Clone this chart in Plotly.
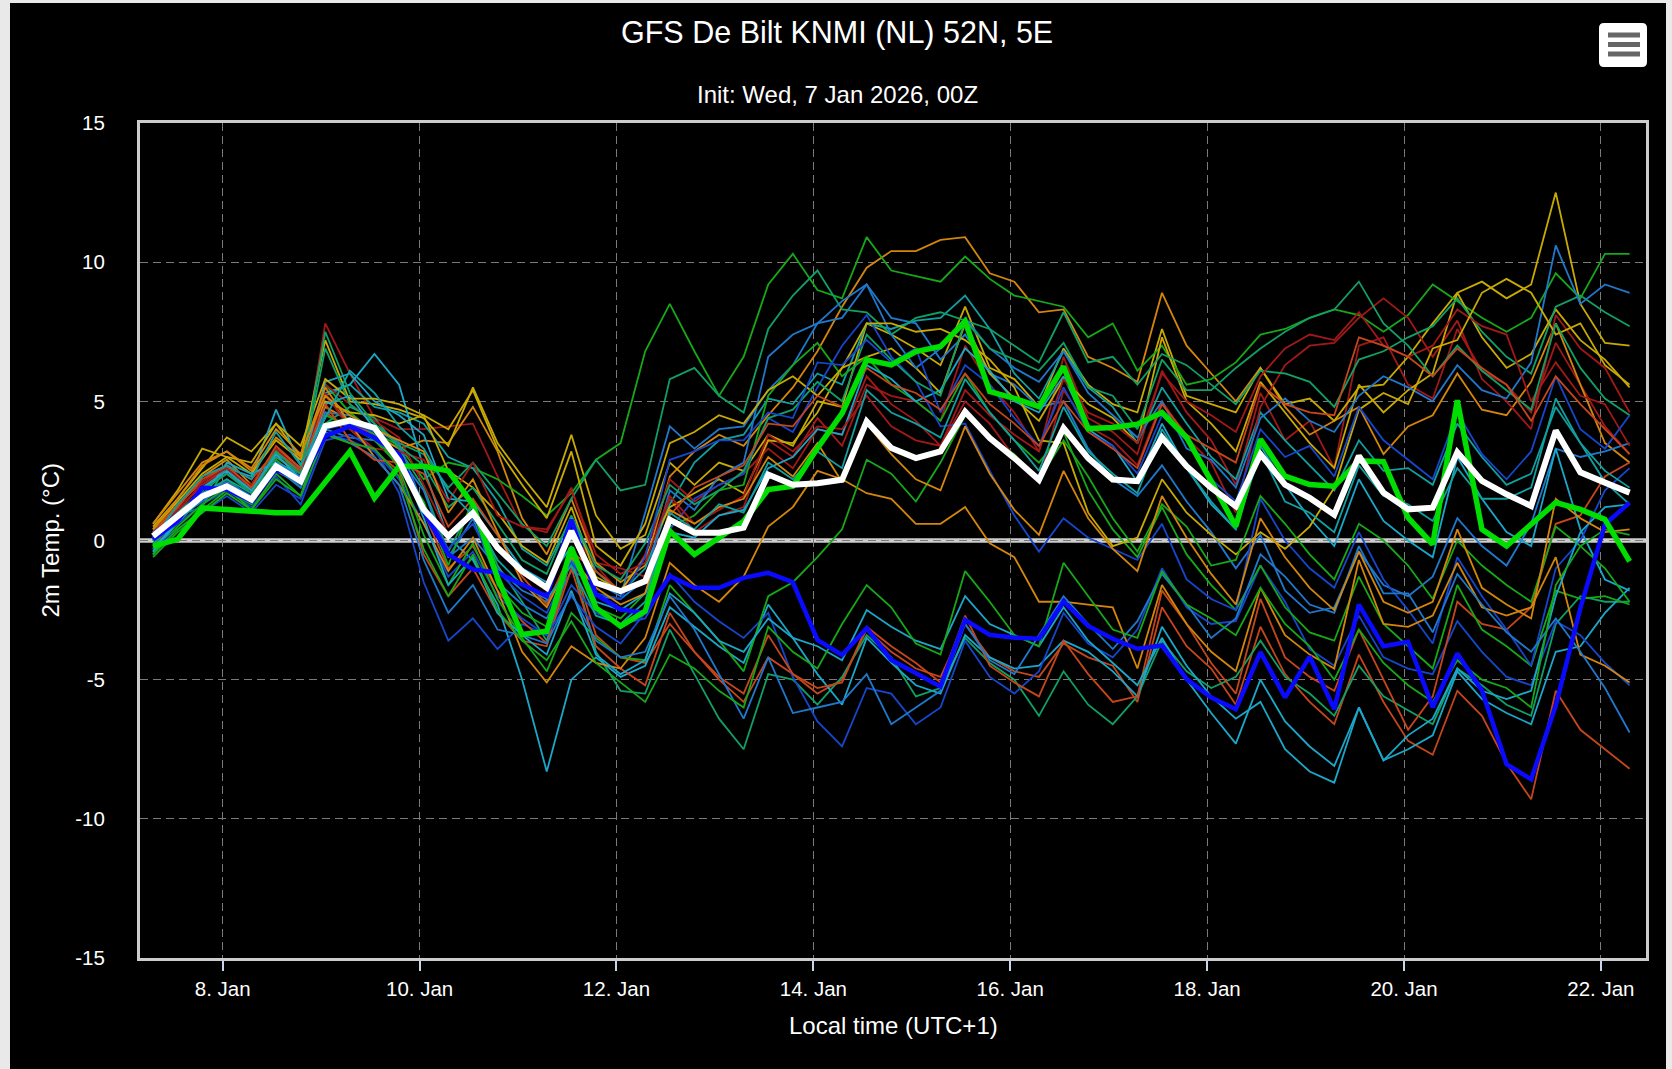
import pandas as pd
import plotly.graph_objects as go

# ---------------- data ----------------
times = pd.date_range("2026-01-07 07:00", periods=61, freq="6h")

tick_dates = ["2026-01-08", "2026-01-10", "2026-01-12", "2026-01-14",
              "2026-01-16", "2026-01-18", "2026-01-20", "2026-01-22"]
tick_labels = ["8. Jan", "10. Jan", "12. Jan", "14. Jan",
               "16. Jan", "18. Jan", "20. Jan", "22. Jan"]
y_ticks = [-15, -10, -5, 0, 5, 10, 15]

ens_mean = [0.16, 0.87, 1.59, 1.95, 1.47, 2.67, 2.13, 4.11, 4.31, 4.05, 2.85,
            1.11, 0.16, 0.99, -0.26, -1.1, -1.7, 0.34, -1.52, -1.82, -1.46,
            0.75, 0.28, 0.28, 0.46, 2.37, 2.0, 2.06, 2.18,
            4.28, 3.32, 2.96, 3.2, 4.63, 3.68, 2.96, 2.18,
            4.04, 2.96, 2.19, 2.13, 3.7, 2.67, 1.89, 1.23,
            3.1, 2.01, 1.53, 0.93, 3.04, 1.72, 1.12, 1.18,
            3.17, 2.14, 1.66, 1.24, 3.95, 2.45, 2.08, 1.72]

oper_run = [-0.2, 0.04, 1.17, 1.11, 1.05, 1.0, 1.0, 2.07, 3.2, 1.53, 2.67,
            2.67, 2.5, 1.29, -1.34, -3.38, -3.26, -0.26, -2.42, -3.08, -2.54,
            0.34, -0.5, 0.1, 0.69, 1.83, 1.95, 3.32, 4.57,
            6.49, 6.31, 6.79, 6.97, 7.87, 5.35, 5.11, 4.81,
            6.25, 4.02, 4.06, 4.18, 4.6, 3.7, 2.13, 0.51,
            3.64, 2.31, 2.01, 1.95, 2.86, 2.83, 0.82, -0.14,
            5.04, 0.4, -0.2, 0.58, 1.36, 1.12, 0.76, -0.75]

control_run = [0.04, 0.7, 1.9, 1.83, 1.41, 2.55, 2.19, 3.75, 4.1, 3.69, 3.09,
               1.05, -0.5, -1.04, -1.16, -1.58, -2.0, 0.75, -1.94, -2.48, -2.6,
               -1.28, -1.7, -1.7, -1.34, -1.16, -1.5, -3.57, -4.11,
               -3.15, -4.29, -4.77, -5.25, -2.85, -3.39, -3.49, -3.53,
               -2.19, -3.07, -3.53, -3.89, -3.77, -4.98, -5.64, -6.06,
               -4.01, -5.64, -4.17, -6.06, -2.3, -3.8, -3.64, -5.99,
               -4.06, -5.39, -8.04, -8.58, -5.93, -2.43, 0.58, 1.36]

member_01 = [-0.2, 0.8, 1.8, 2.4, 1.7, 3.2, 2.4, 7.8, 6.0, 4.4, 4.0,
             4.0, 4.1, 4.2, 2.3, 0.5, 0.3, 1.9, -0.8, -1.0, -1.3,
             1.5, 0.3, 0.9, 1.2, 3.6, 3.0, 4.4, 3.4,
             5.6, 5.2, 5.0, 4.3, 7.0, 5.6, 4.6, 3.2,
             6.6, 4.4, 3.9, 3.1, 6.1, 4.6, 3.6, 2.0,
             5.3, 3.6, 4.3, 2.6, 7.0, 7.3, 5.6, 5.1,
             7.6, 6.1, 5.6, 4.6, 7.1, 5.6, 4.1, 3.1]
member_02 = [0.1, 1.1, 2.0, 2.6, 1.9, 3.0, 2.5, 4.6, 4.0, 3.2, 2.5,
             -0.5, -2.0, -1.0, -2.6, -3.6, -3.8, -0.6, -3.4, -4.2, -4.4,
             -3.0, -4.0, -5.0, -5.8, -4.2, -4.8, -5.5, -5.0,
             -3.2, -4.0, -4.6, -4.9, -3.0, -4.2, -4.7, -4.9,
             -3.7, -4.2, -4.5, -5.8, -2.4, -3.8, -4.6, -5.9,
             -3.1, -4.8, -5.8, -6.6, -4.1, -5.8, -7.2, -7.7,
             -5.4, -6.3, -8.0, -9.3, -5.4, -6.8, -7.5, -8.2]
member_03 = [0.3, 1.2, 2.3, 2.9, 2.0, 3.3, 2.6, 4.8, 4.3, 3.8, 3.3,
             3.6, 3.5, 4.8, 3.2, 0.8, -0.5, 1.5, -0.8, -1.5, -0.9,
             2.3, 3.2, 3.8, 3.4, 4.5, 5.5, 6.8, 8.4,
             9.8, 10.4, 10.4, 10.8, 10.9, 9.6, 9.3, 8.2,
             8.3, 6.6, 6.2, 5.7, 8.9, 7.0, 6.0, 5.0,
             6.2, 4.8, 3.8, 4.3, 4.8, 3.1, 4.1, 4.5,
             6.0, 4.7, 4.5, 5.7, 7.8, 5.6, 3.5, 2.8]
member_04 = [0.5, 1.5, 2.6, 3.7, 3.2, 4.2, 3.0, 7.2, 5.0, 4.9, 4.7,
             4.4, 3.4, 5.5, 3.5, 2.3, 1.2, 3.8, 0.9, -0.3, 0.2,
             2.8, 2.0, 2.8, 2.5, 3.8, 3.4, 5.0, 4.8,
             7.8, 7.4, 6.9, 6.3, 8.4, 6.2, 5.8, 4.8,
             6.9, 5.6, 4.9, 4.6, 7.6, 5.2, 4.9, 4.6,
             6.2, 4.9, 5.1, 4.3, 5.5, 5.6, 6.6, 7.8,
             8.9, 9.3, 8.7, 9.2, 12.5, 8.5, 7.1, 7.0]
member_05 = [-0.3, 0.6, 1.6, 2.2, 1.5, 2.9, 2.2, 5.6, 4.6, 3.9, 3.4,
             2.2, 2.8, 2.6, 2.2, 1.6, 0.9, 1.7, 2.9, 3.5, 6.8,
             8.5, 6.8, 5.2, 6.6, 9.2, 10.3, 9.0, 8.7,
             10.9, 9.7, 9.5, 9.3, 10.2, 9.4, 8.8, 8.6,
             8.4, 7.3, 7.8, 6.1, 7.0, 5.6, 5.8, 6.4,
             7.4, 7.6, 8.0, 8.3, 8.1, 7.5, 8.1, 9.2,
             8.6, 8.0, 7.5, 8.0, 9.6, 8.7, 10.3, 10.3]
member_06 = [-0.2, 0.9, 1.2, 2.7, 1.8, 2.7, 2.0, 4.2, 4.8, 4.4, 3.3,
             1.9, -0.4, 1.3, -0.9, -2.2, -3.6, -0.6, -4.0, -5.4, -5.5,
             -3.2, -4.8, -6.4, -7.5, -4.8, -5.0, -5.9, -4.9,
             -3.4, -4.2, -5.6, -5.3, -3.5, -4.4, -5.0, -6.3,
             -4.7, -5.9, -6.6, -5.6, -3.6, -4.7, -5.3, -4.9,
             -3.6, -4.9, -5.5, -6.3, -4.5, -5.6, -6.1, -6.6,
             -4.6, -5.2, -5.9, -6.3, -3.0, -2.0, -2.2, -2.2]
member_07 = [0.1, 1.0, 1.7, 2.2, 1.7, 3.1, 2.6, 5.2, 5.6, 4.8, 4.6,
             4.2, 3.0, 2.6, 1.4, -0.3, -0.9, 0.8, -1.1, -1.9, -1.0,
             1.3, 2.8, 3.6, 3.8, 5.1, 4.9, 6.0, 5.6,
             7.8, 7.6, 7.9, 8.0, 8.8, 7.6, 6.0, 5.1,
             6.8, 5.5, 4.8, 3.5, 5.5, 4.2, 3.0, 2.2,
             4.6, 3.6, 2.7, 1.8, 3.6, 2.5, 2.6, 2.0,
             4.2, 3.0, 2.0, 2.4, 4.8, 3.5, 2.1, 1.3]
member_08 = [-0.5, 0.7, 1.8, 2.6, 2.3, 4.7, 2.7, 5.3, 5.6, 6.7, 5.6,
             2.6, 0.1, -0.7, -2.3, -5.0, -8.3, -5.0, -4.2, -4.9, -4.5,
             -2.4, -3.1, -3.8, -4.4, -2.3, -3.5, -4.8, -5.9,
             -3.5, -4.4, -5.2, -5.5, -3.4, -4.2, -4.6, -4.5,
             -3.6, -4.0, -4.7, -5.6, -3.1, -4.5, -5.6, -6.4,
             -5.8, -7.5, -8.3, -8.7, -6.0, -7.9, -7.5, -7.0,
             -4.7, -5.7, -6.2, -6.6, -4.0, -3.8, -2.6, -1.7]
member_09 = [0.0, 0.8, 1.4, 2.0, 1.4, 2.5, 2.0, 4.0, 3.7, 3.6, 3.0,
             1.8, -0.6, 0.8, -1.5, -2.3, -2.8, -1.1, -1.5, -2.0, 1.0,
             4.1, 3.3, 4.0, 4.1, 5.4, 6.3, 7.8, 8.0,
             9.2, 8.0, 7.8, 6.5, 7.4, 6.0, 5.6, 4.8,
             5.0, 3.3, 2.2, 1.6, 2.7, 1.4, 0.3, -1.0,
             0.2, -1.8, -2.6, -2.4, -0.4, -1.6, -2.0, -1.3,
             0.8, -0.2, -0.9, 0.6, 3.3, 3.0, 3.2, 3.5]
member_10 = [0.0, 0.6, 1.3, 1.8, 1.2, 2.3, 1.3, 3.6, 3.8, 3.3, 1.7,
             -1.5, -3.6, -2.8, -3.9, -3.0, -3.4, -1.6, -2.6, -3.0, -2.8,
             -1.2, -2.2, -2.9, -3.5, -2.6, -4.9, -6.5, -7.4,
             -5.3, -5.5, -6.6, -6.0, -3.6, -4.9, -5.5, -4.7,
             -2.6, -3.7, -4.2, -3.2, -1.0, -2.4, -3.0, -2.9,
             -0.9, -2.2, -3.9, -4.5, -2.7, -4.2, -4.6, -4.8,
             -2.9, -4.0, -4.9, -5.2, -2.9, -3.4, -4.4, -5.2]
member_11 = [0.2, 1.1, 2.0, 2.5, 2.0, 3.3, 2.5, 5.6, 4.9, 4.3, 3.7,
             2.0, 0.2, 1.0, -0.3, -1.2, -1.8, 0.3, -0.9, -1.9, -0.5,
             2.2, 1.4, 2.0, 2.4, 3.3, 2.6, 4.0, 3.8,
             5.9, 4.9, 4.3, 3.4, 5.0, 4.2, 3.0, 2.1,
             5.4, 4.1, 3.6, 2.7, 5.0, 3.7, 2.8, 1.0,
             4.8, 6.3, 7.0, 7.1, 8.0, 8.7, 8.0, 6.6,
             7.9, 5.8, 5.0, 4.0, 8.1, 6.9, 6.2, 4.6]
member_12 = [0.3, 1.3, 2.1, 2.7, 2.2, 3.2, 2.5, 5.2, 4.2, 3.8, 3.0,
             1.0, -1.0, -0.2, -1.8, -2.9, -3.7, -1.0, -3.8, -4.6, -5.2,
             -2.6, -4.0, -4.9, -5.5, -3.4, -4.8, -5.3, -5.1,
             -3.1, -3.8, -4.4, -5.1, -2.7, -4.5, -5.1, -5.6,
             -3.6, -4.8, -5.8, -5.6, -1.8, -3.0, -4.4, -5.5,
             -2.1, -4.2, -4.9, -5.4, -3.2, -5.0, -6.8, -5.6,
             -2.2, -3.0, -3.2, -2.4, 0.6, 0.9, 2.3, 2.8]
member_13 = [0.4, 1.4, 2.4, 3.0, 2.4, 3.6, 2.9, 5.0, 4.6, 4.5, 4.2,
             4.5, 2.5, 1.9, 1.0, -0.2, -0.8, 1.2, -1.3, -1.8, -0.6,
             1.2, 1.7, 2.2, 1.7, 3.6, 3.5, 4.6, 6.2,
             6.6, 6.9, 6.2, 5.3, 7.8, 6.0, 5.1, 4.3,
             5.8, 4.9, 4.4, 3.5, 7.3, 5.0, 4.2, 3.2,
             5.7, 4.6, 3.5, 2.6, 5.6, 4.6, 5.4, 6.0,
             8.9, 7.3, 6.2, 6.7, 8.3, 7.2, 6.5, 5.5]
member_14 = [-0.4, 0.5, 1.3, 1.9, 1.1, 2.4, 1.6, 4.5, 4.1, 3.6, 2.7,
             1.4, -0.9, 1.5, -1.6, -2.6, -3.1, -0.4, -2.4, -2.8, -1.9,
             0.5, 0.9, 1.8, 2.0, 5.2, 6.3, 7.1, 5.9,
             6.6, 5.6, 5.0, 4.3, 6.0, 4.6, 3.6, 2.8,
             3.9, 1.8, 0.4, -0.6, 1.2, -0.5, -1.6, -2.5,
             -0.9, -2.4, -3.3, -3.6, -1.3, -3.0, -3.8, -4.6,
             -1.6, -3.2, -3.8, -4.5, -1.8, -2.1, -2.0, -2.3]
member_15 = [-0.1, 0.9, 1.9, 2.4, 1.8, 3.2, 2.4, 7.5, 5.3, 4.2, 3.5,
             3.1, 1.9, 2.8, 1.7, 0.6, -0.2, 1.5, 2.9, 1.8, 2.0,
             5.8, 6.2, 5.2, 4.6, 7.6, 8.8, 9.7, 8.3,
             8.2, 7.4, 8.0, 8.2, 7.9, 7.6, 7.0, 6.4,
             8.2, 6.4, 6.6, 5.6, 6.7, 6.3, 5.6, 4.9,
             6.1, 6.0, 5.7, 4.8, 6.5, 6.8, 7.3, 7.7,
             8.7, 7.5, 6.6, 6.0, 8.4, 8.8, 8.2, 7.7]
member_16 = [-0.3, 0.7, 1.5, 2.8, 2.4, 2.8, 2.4, 5.7, 6.0, 5.0, 4.5,
             3.8, 1.5, 1.4, 0.2, -1.0, -1.5, -0.2, -2.2, -2.5, -1.9,
             0.3, 0.1, 0.9, 1.1, 2.6, 3.0, 4.0, 3.8,
             6.3, 5.8, 5.0, 5.4, 6.9, 6.1, 5.0, 4.6,
             5.9, 4.0, 3.4, 2.1, 4.2, 2.6, 1.3, 0.4,
             3.4, 2.0, 0.8, -0.2, 2.2, 0.7, 0.0, -0.6,
             3.0, 1.5, 0.3, -0.2, 3.3, 0.4, -1.4, -1.8]
member_17 = [0.2, 0.9, 1.7, 2.1, 1.6, 2.8, 2.3, 4.6, 4.5, 4.0, 3.5,
             1.2, -0.6, 0.1, -1.0, -1.8, -2.2, -0.7, -2.0, -2.1, -1.4,
             1.8, 1.1, 2.3, 2.8, 6.6, 7.4, 7.8, 8.6,
             9.2, 7.4, 6.2, 6.9, 8.0, 6.9, 6.2, 5.7,
             6.8, 5.3, 4.5, 3.7, 5.0, 3.3, 2.9, 1.9,
             4.4, 5.1, 4.3, 3.9, 5.2, 5.9, 5.5, 5.0,
             6.3, 5.4, 5.1, 6.4, 10.6, 8.5, 9.2, 8.9]
member_18 = [-0.3, 0.4, 1.0, 1.6, 1.0, 2.0, 1.5, 3.8, 3.6, 3.2, 2.2,
             0.6, -1.3, -0.4, -2.0, -2.8, -3.4, -2.0, -3.1, -3.7, -2.6,
             0.4, 1.5, 2.0, 2.4, 4.4, 3.9, 5.5, 7.0,
             8.1, 6.6, 5.7, 4.1, 4.2, 2.5, 0.9, -0.4,
             0.8, 0.1, -0.3, -0.7, 0.6, -1.4, -2.1, -2.5,
             1.5, 0.0, -1.0, -1.7, 0.3, -1.4, -2.5, -3.7,
             -0.6, -2.0, -3.2, -4.5, -1.0, 0.0, 1.8, 2.6]
member_19 = [0.0, 1.0, 2.1, 2.6, 1.9, 3.0, 2.4, 5.3, 4.0, 3.3, 3.2,
             2.9, 1.4, 2.8, 0.9, 0.5, 0.4, 1.8, -0.5, -1.2, -0.8,
             1.6, 0.6, 1.1, 1.6, 3.8, 3.2, 4.1, 4.0,
             5.2, 4.1, 3.6, 3.4, 5.4, 4.5, 3.8, 3.2,
             5.8, 4.6, 4.2, 3.5, 6.0, 5.0, 4.5, 3.9,
             5.9, 6.9, 7.4, 7.2, 8.2, 7.0, 6.6, 7.0,
             8.3, 7.7, 7.4, 5.0, 6.4, 5.2, 4.9, 3.4]
member_20 = [0.4, 1.5, 2.7, 3.2, 2.5, 3.7, 3.0, 5.5, 4.2, 3.0, 2.0,
             0.6, -1.1, 0.1, -1.8, -4.0, -5.1, -3.8, -4.4, -4.6, -3.5,
             -0.8, -1.6, -2.2, -1.3, 0.5, 1.2, 2.5, 2.2,
             1.7, 1.5, 0.6, 0.6, 1.2, -0.1, -0.6, -2.2,
             -2.2, -2.3, -2.4, -4.6, -1.6, -3.0, -4.0, -4.7,
             -1.7, -3.4, -4.1, -4.6, -0.7, -3.0, -3.1, -2.7,
             -0.8, -2.4, -2.7, -2.4, -0.6, -4.1, -4.5, -5.1]
member_21 = [0.6, 1.8, 3.3, 3.0, 2.8, 4.2, 3.4, 5.8, 5.1, 5.1, 4.9,
             4.5, 4.0, 5.4, 3.3, 2.0, 0.8, 3.2, -0.2, -0.9, 0.6,
             3.5, 3.9, 4.5, 4.2, 5.4, 5.9, 5.2, 6.2,
             7.8, 7.8, 7.5, 7.6, 7.2, 6.5, 5.5, 3.6,
             3.5, 1.0, -0.2, 0.1, 2.2, 1.0, 0.2, -0.5,
             0.3, -0.3, 0.5, 1.9, 4.7, 5.3, 4.9, 6.9,
             7.2, 8.9, 9.4, 8.9, 7.4, 7.8, 6.3, 5.6]
member_22 = [-0.5, 0.4, 1.1, 1.8, 1.3, 2.6, 1.9, 4.2, 4.4, 3.8, 2.6,
             0.2, -1.6, -0.1, -2.1, -3.5, -4.7, -2.6, -3.5, -4.2, -4.3,
             -1.6, -2.6, -3.6, -4.7, -2.0, -1.5, -0.6, 0.4,
             2.9, 2.4, 1.4, 2.8, 4.5, 3.7, 3.1, 2.2,
             3.6, 2.3, 0.8, -0.4, 1.3, 0.5, -0.9, -0.7,
             1.6, 0.6, -0.5, -1.4, 0.6, 0.0, -0.9, -2.1,
             0.0, -0.9, -1.6, -2.2, 0.5, -0.2, -1.0, -2.2]
member_23 = [0.0, 1.0, 1.8, 2.4, 1.7, 3.0, 2.4, 6.9, 4.9, 4.2, 3.4,
             2.7, 1.2, 1.9, 0.6, -0.7, -1.2, 0.9, -0.9, -1.4, -0.1,
             2.0, 1.3, 1.8, 2.5, 4.4, 4.7, 5.7, 5.0,
             7.4, 6.5, 5.7, 5.2, 7.9, 6.9, 6.5, 6.1,
             7.1, 5.5, 5.2, 4.0, 6.5, 5.4, 5.4, 6.2,
             6.9, 7.5, 8.0, 8.3, 9.3, 7.8, 7.0, 5.9,
             7.0, 6.1, 5.4, 4.7, 7.8, 6.2, 5.1, 4.5]
member_24 = [-0.4, 0.8, 1.9, 2.5, 1.8, 3.1, 2.2, 4.9, 5.2, 4.0, 3.0,
             0.8, -1.6, -0.6, -2.6, -3.4, -4.1, -1.8, -4.1, -4.8, -4.3,
             -1.9, -2.6, -3.6, -4.0, -2.8, -3.5, -3.8, -4.3,
             -2.5, -3.1, -3.6, -3.9, -2.0, -3.0, -3.4, -3.8,
             -2.4, -3.6, -4.4, -5.2, -3.5, -5.0, -6.2, -7.3,
             -5.0, -6.5, -7.4, -8.1, -6.0, -7.9, -7.0, -6.4,
             -4.6, -5.4, -5.7, -5.4, -2.0, 0.3, 1.2, 1.3]
member_25 = [0.1, 0.9, 1.6, 2.0, 1.4, 2.6, 1.9, 3.9, 3.5, 3.0, 2.0,
             -0.7, -2.6, -1.6, -3.2, -3.4, -3.7, -1.9, -3.6, -4.2, -4.0,
             -2.0, -3.2, -4.8, -6.4, -4.2, -6.2, -6.0, -5.8,
             -4.8, -6.6, -6.0, -5.4, -3.0, -4.3, -4.8, -3.4,
             -2.0, -3.0, -3.9, -2.9, -1.2, -2.3, -3.5, -2.8,
             -0.5, -1.3, -2.3, -2.6, -0.2, -1.9, -1.9, -3.3,
             -1.2, -2.3, -3.3, -4.0, -2.8, -4.0, -5.3, -6.9]
member_26 = [0.3, 1.0, 1.5, 1.9, 1.5, 2.7, 2.0, 4.0, 4.2, 3.9, 2.8,
             1.2, -0.3, 0.6, -1.1, -2.0, -2.6, -0.8, -1.9, -2.1, -0.6,
             2.9, 3.2, 3.6, 3.6, 4.6, 4.4, 6.4, 6.3,
             7.2, 6.4, 6.9, 4.6, 6.3, 5.6, 4.4, 3.4,
             5.5, 3.9, 3.4, 2.4, 4.5, 3.6, 2.2, 1.4,
             4.0, 3.0, 3.4, 2.3, 4.8, 3.6, 2.9, 2.2,
             4.6, 3.1, 2.2, 3.2, 5.9, 4.0, 3.3, 4.5]
member_27 = [0.2, 1.2, 2.2, 2.7, 1.9, 3.4, 2.6, 4.9, 3.6, 2.9, 2.8,
             2.4, 0.5, 1.5, 0.2, -1.3, -2.3, -0.4, -1.1, -1.8, -1.4,
             0.9, 1.9, 2.3, 2.7, 4.2, 4.1, 5.2, 4.8,
             6.2, 5.6, 5.3, 4.7, 6.0, 4.9, 4.2, 3.4,
             5.0, 3.9, 3.3, 2.6, 4.9, 3.8, 3.3, 2.8,
             5.6, 4.9, 4.6, 4.5, 7.3, 7.0, 6.6, 5.9,
             6.9, 6.2, 5.6, 4.3, 5.9, 4.9, 4.0, 3.1]
member_28 = [0.6, 1.7, 2.8, 3.2, 2.6, 4.0, 3.1, 5.2, 4.5, 4.0, 3.6,
             3.2, 1.0, 2.2, 0.3, -1.5, -2.4, -0.6, -1.7, -2.3, -1.9,
             1.1, 0.6, 1.2, 1.5, 3.0, 2.3, 3.5, 2.1,
             4.2, 3.1, 2.2, 1.8, 4.1, 2.4, 1.1, 0.2,
             2.5, 0.8, -0.3, -1.1, 1.6, 0.1, -1.2, -2.3,
             0.8, -0.6, -1.7, -2.5, -0.4, -2.2, -2.6, -2.2,
             0.4, -1.7, -2.3, -2.8, 1.5, 0.8, 0.3, 0.4]
member_29 = [-0.6, 0.3, 1.0, 1.7, 1.1, 2.2, 1.6, 3.8, 3.5, 3.3, 2.3,
             -0.3, -2.0, -0.5, -2.5, -3.6, -4.3, -2.9, -4.4, -5.1, -5.8,
             -4.1, -4.6, -5.4, -6.0, -3.1, -4.0, -4.6, -3.0,
             -1.6, -2.4, -3.7, -4.1, -1.1, -2.2, -3.4, -3.8,
             -0.8, -2.0, -3.2, -3.5, -1.1, -2.3, -2.8, -3.4,
             -1.7, -3.0, -3.8, -5.0, -3.2, -4.4, -5.2, -5.8,
             -4.3, -5.0, -5.3, -6.0, -1.6, -0.2, 0.4, 0.2]
member_30 = [0.0, 1.3, 2.3, 2.7, 2.2, 3.9, 2.7, 4.4, 6.1, 5.3, 4.1,
             3.3, 1.8, 0.9, -0.7, -1.6, -2.1, -0.9, -2.7, -3.0, -2.2,
             1.0, 0.4, 1.3, 1.0, 2.8, 2.2, 3.2, 2.6,
             5.4, 4.6, 4.2, 3.7, 5.8, 4.6, 3.6, 2.5,
             4.8, 3.2, 2.4, 1.7, 4.0, 2.6, 1.4, 0.4,
             3.2, 1.4, 1.0, 0.3, 2.7, 1.6, 1.3, 0.7,
             2.6, 1.5, 1.5, 1.9, 5.1, 3.5, 2.5, 1.9]

members = [member_01, member_02, member_03, member_04, member_05, member_06,
           member_07, member_08, member_09, member_10, member_11, member_12,
           member_13, member_14, member_15, member_16, member_17, member_18,
           member_19, member_20, member_21, member_22, member_23, member_24,
           member_25, member_26, member_27, member_28, member_29, member_30]

DRED, RED, ORA, GOLD = "#a31818", "#c6461b", "#d4860b", "#c8aa02"
GRN, TGRN, TEAL, CYAN = "#16a818", "#10a066", "#10a0a0", "#1ba7c9"
BLUE, DBLUE = "#1f78cc", "#1646cc"
member_colors = [DRED, RED, ORA, GOLD, GRN, TGRN, TEAL, CYAN, BLUE, DBLUE,
                 DRED, RED, GOLD, GRN, TGRN, CYAN, BLUE, DBLUE, DRED, ORA,
                 GOLD, GRN, TGRN, CYAN, BLUE, DBLUE, RED, ORA, GRN, TEAL]

# ---------------- layout geometry (pixels) ----------------
W, H = 1672, 1069
L, R, T, B = 140, 1646, 123, 958


def px(p):
    return (p - L) / (R - L)


def py(p):
    return (B - p) / (B - T)


FONT = "Liberation Sans, Arial, Helvetica, sans-serif"

fig = go.Figure()

for vals, col in zip(members, member_colors):
    fig.add_trace(go.Scatter(x=times, y=vals, mode="lines",
                             line=dict(color=col, width=1.8),
                             hoverinfo="skip", showlegend=False))

fig.add_trace(go.Scatter(x=times, y=control_run, mode="lines",
                         line=dict(color="#0a0aff", width=4.5),
                         hoverinfo="skip", showlegend=False))
fig.add_trace(go.Scatter(x=times, y=oper_run, mode="lines",
                         line=dict(color="#00dd00", width=5.5),
                         hoverinfo="skip", showlegend=False))
fig.add_trace(go.Scatter(x=times, y=ens_mean, mode="lines",
                         line=dict(color="#ffffff", width=6),
                         hoverinfo="skip", showlegend=False))

shapes = []
# zero plot line (band + dashed grid on top)
shapes.append(dict(type="line", xref="paper", yref="y", x0=0, x1=1, y0=0, y1=0,
                   line=dict(color="#cccccc", width=4.5), layer="between"))
shapes.append(dict(type="line", xref="paper", yref="y", x0=0, x1=1, y0=0, y1=0,
                   line=dict(color="#7a7a7a", width=1.2, dash="8px,5px"), layer="between"))

# outer light frame strips
for (x0, y0, x1, y1) in [(0, 0, 10, H), (0, 0, W, 3), (1666, 0, W, H)]:
    shapes.append(dict(type="rect", xref="paper", yref="paper",
                       x0=px(x0), x1=px(x1), y0=py(y1), y1=py(y0),
                       fillcolor="#e9e9e9", line=dict(width=0), layer="above"))

# export (hamburger) button
bx0, by0, bx1, by1, rr = 1599, 23, 1647, 67, 5


def P(x, y):
    return f"{px(x):.6f},{py(y):.6f}"


path = (f"M {P(bx0 + rr, by0)} L {P(bx1 - rr, by0)} Q {P(bx1, by0)} {P(bx1, by0 + rr)} "
        f"L {P(bx1, by1 - rr)} Q {P(bx1, by1)} {P(bx1 - rr, by1)} "
        f"L {P(bx0 + rr, by1)} Q {P(bx0, by1)} {P(bx0, by1 - rr)} "
        f"L {P(bx0, by0 + rr)} Q {P(bx0, by0)} {P(bx0 + rr, by0)} Z")
shapes.append(dict(type="path", xref="paper", yref="paper", path=path,
                   fillcolor="#ffffff", line=dict(width=0), layer="above"))
for yy in (35, 44.5, 54):
    shapes.append(dict(type="line", xref="paper", yref="paper",
                       x0=px(1608), x1=px(1640), y0=py(yy), y1=py(yy),
                       line=dict(color="#666666", width=5), layer="above"))

annotations = [
    dict(text="GFS De Bilt KNMI (NL) 52N, 5E", x=px(837), y=py(32),
         xref="paper", yref="paper", showarrow=False, xanchor="center",
         yanchor="middle", font=dict(family=FONT, size=30.5, color="#ffffff")),
    dict(text="Init: Wed, 7 Jan 2026, 00Z", x=px(837), y=py(94.5),
         xref="paper", yref="paper", showarrow=False, xanchor="center",
         yanchor="middle", font=dict(family=FONT, size=24, color="#ffffff")),
    dict(text="2m Temp. (°C)", x=px(50), y=0.5, textangle=-90,
         xref="paper", yref="paper", showarrow=False, xanchor="center",
         yanchor="middle", font=dict(family=FONT, size=24, color="#ffffff")),
    dict(text="Local time (UTC+1)", x=0.5, y=py(1025),
         xref="paper", yref="paper", showarrow=False, xanchor="center",
         yanchor="middle", font=dict(family=FONT, size=24, color="#ffffff")),
]

fig.update_layout(
    width=W, height=H, autosize=False,
    margin=dict(l=L, r=W - R, t=T, b=H - B, pad=0),
    paper_bgcolor="#000000", plot_bgcolor="#000000",
    showlegend=False, hovermode=False,
    shapes=shapes, annotations=annotations,
    font=dict(family=FONT, color="#ffffff"),
)
fig.update_xaxes(
    type="date", range=["2026-01-07 03:50", "2026-01-22 11:00"],
    tickvals=tick_dates, ticktext=tick_labels,
    tickfont=dict(family=FONT, size=20.5, color="#ffffff"),
    ticks="outside", ticklen=10, tickwidth=1.5, tickcolor="#ccd6eb",
    showgrid=True, gridcolor="#7a7a7a", gridwidth=1, griddash="8px,5px",
    showline=True, linecolor="#cccccc", linewidth=3, mirror=True,
    zeroline=False,
)
fig.update_yaxes(
    range=[-15, 15], tickvals=y_ticks, ticktext=[str(v) for v in y_ticks],
    tickfont=dict(family=FONT, size=20.5, color="#ffffff"),
    ticks="", ticklabelstandoff=28,
    showgrid=True, gridcolor="#7a7a7a", gridwidth=1, griddash="8px,5px",
    showline=True, linecolor="#cccccc", linewidth=3, mirror=True,
    zeroline=False,
)

fig.write_html("out.html", include_plotlyjs=True,
               config={"displayModeBar": False},
               post_script="document.body.style.margin='0';document.body.style.overflow='hidden';")
